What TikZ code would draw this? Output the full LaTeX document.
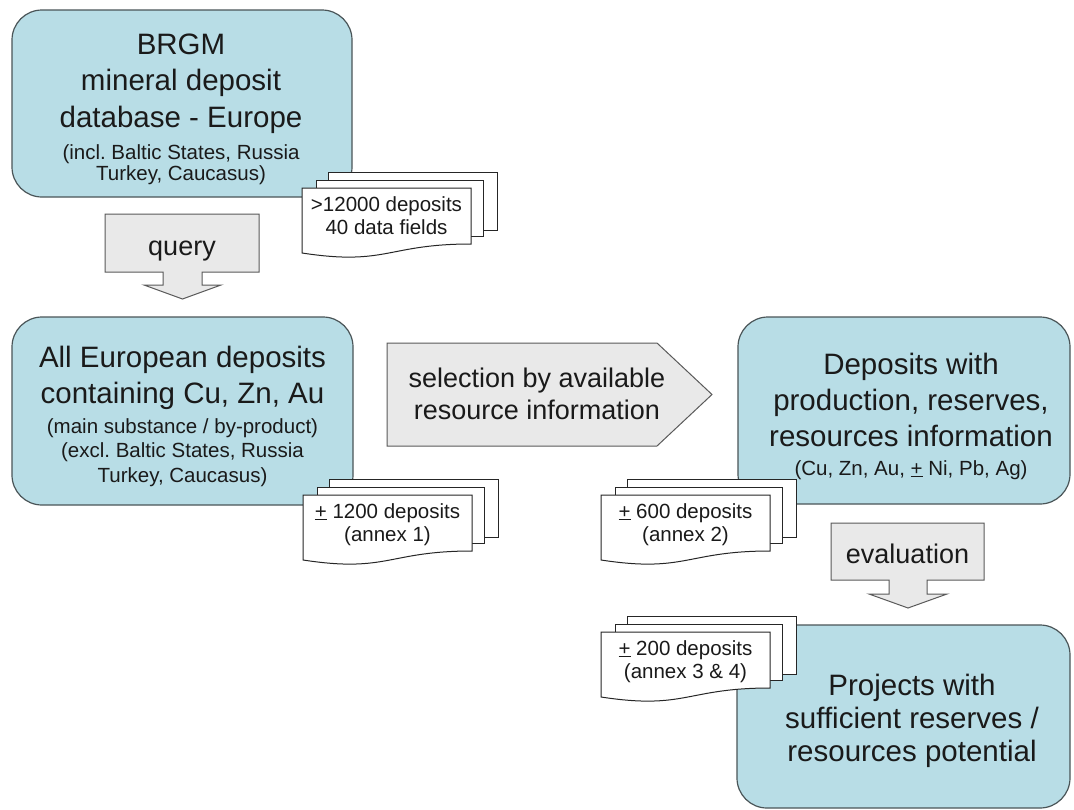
\documentclass[tikz,border=0pt]{standalone}
\usepackage{fontspec}
\setmainfont{Liberation Sans}
\frenchspacing
\definecolor{boxblue}{HTML}{B8DDE6}
\definecolor{boxline}{HTML}{4A5558}
\definecolor{arrowgray}{HTML}{E9E9E9}
\definecolor{arrowline}{HTML}{5A5A5A}
\definecolor{ink}{HTML}{1A1A1A}
\newcommand\mdoc[2]{%
  \draw[sheet] (#1+26,#2-16) rectangle (#1+195,#2+42);
  \draw[sheet] (#1+14,#2-8) rectangle (#1+181,#2+48);
  \draw[sheet] (#1,#2) -- (#1+169,#2) -- (#1+169,#2+56)
     .. controls (#1+85,#2+56) and (#1+85,#2+78) .. (#1,#2+65) -- cycle;}
\newcommand\pmu{\underline{+}}
\begin{document}
\begin{tikzpicture}[x=1pt,y=-1pt,
  bluebox/.style={draw=boxline,fill=boxblue,line width=1.2pt,rounded corners=30pt,inner sep=0pt},
  grayarrow/.style={draw=arrowline,fill=arrowgray,line width=1pt,line join=miter},
  sheet/.style={draw=black!85,fill=white,line width=1pt},
  ln/.style={anchor=base,inner sep=0pt,text=ink},
  big/.style={ln,font=\fontsize{29.5}{36}\selectfont},
  mid/.style={ln,font=\fontsize{27}{32}\selectfont},
  small/.style={ln,font=\fontsize{20.5}{24}\selectfont},
]
\useasboundingbox[fill=white] (0,0) rectangle (1074,809);

% rounded boxes
\node[bluebox,minimum width=340pt,minimum height=187pt] (brgm) at (182,103.5) {};
\node[bluebox,minimum width=341pt,minimum height=188pt] (alleu) at (182.5,411) {};
\node[bluebox,minimum width=332pt,minimum height=187pt] (depo) at (904,410.5) {};
\node[bluebox,minimum width=333pt,minimum height=183pt] (proj) at (903.5,716.5) {};

% texts of box 1
\node[big] (b1a) at (181,54) {BRGM};
\node[big] (b1b) at (181,90) {mineral deposit};
\node[big] (b1c) at (181,127) {database - Europe};
\node[small] (b1d) at (181,159) {(incl. Baltic States, Russia};
\node[small] (b1e) at (181,180) {Turkey, Caucasus)};

% texts of box 2
\node[big] (b2a) at (182.5,367) {All European deposits};
\node[big] (b2b) at (182.5,403) {containing Cu, Zn, Au};
\node[small] (b2c) at (182.5,433) {(main substance / by-product)};
\node[small] (b2d) at (182.5,457) {(excl. Baltic States, Russia};
\node[small] (b2e) at (182.5,482) {Turkey, Caucasus)};

% texts of box 3
\node[big] (b3a) at (911,374) {Deposits with};
\node[big] (b3b) at (911,410) {production, reserves,};
\node[big] (b3c) at (911,446) {resources information};
\node[small] (b3d) at (911,475) {(Cu, Zn, Au, \pmu{} Ni, Pb, Ag)};

% texts of box 4
\node[big] (b4a) at (912,695) {Projects with};
\node[big] (b4b) at (912,728) {sufficient reserves /};
\node[big] (b4c) at (912,761) {resources potential};

% block arrows
\draw[grayarrow] (105,214) -- (259,214) -- (259,272) -- (202,272) -- (202,285)
  -- (221,285) -- (182.5,299) -- (144,285) -- (163,285) -- (163,272)
  -- (105,272) -- cycle;
\node[mid] (query) at (182,255) {query};

\draw[grayarrow] (387,343) -- (657,343) -- (712,394.5) -- (657,446) -- (387,446) -- cycle;
\node[mid] (sel1) at (537,387) {selection by available};
\node[mid] (sel2) at (537,419) {resource information};

\draw[grayarrow] (831,523) -- (984,523) -- (984,580) -- (927,580) -- (927,594)
  -- (947,594) -- (908,608) -- (869,594) -- (889,594) -- (889,580)
  -- (831,580) -- cycle;
\node[mid] (eval) at (907.5,563) {evaluation};

% multi-document stacks
\mdoc{302}{188}
\node[small] (d1a) at (386.5,211) {>12000 deposits};
\node[small] (d1b) at (386.5,234) {40 data fields};

\mdoc{303}{495}
\node[small] (d2a) at (387.5,518) {\pmu{} 1200 deposits};
\node[small] (d2b) at (387.5,541) {(annex 1)};

\mdoc{601}{495}
\node[small] (d3a) at (685.5,518) {\pmu{} 600 deposits};
\node[small] (d3b) at (685.5,541) {(annex 2)};

\mdoc{601}{632}
\node[small] (d4a) at (685.5,655) {\pmu{} 200 deposits};
\node[small] (d4b) at (685.5,678) {(annex 3 \& 4)};
\end{tikzpicture}
\end{document}
